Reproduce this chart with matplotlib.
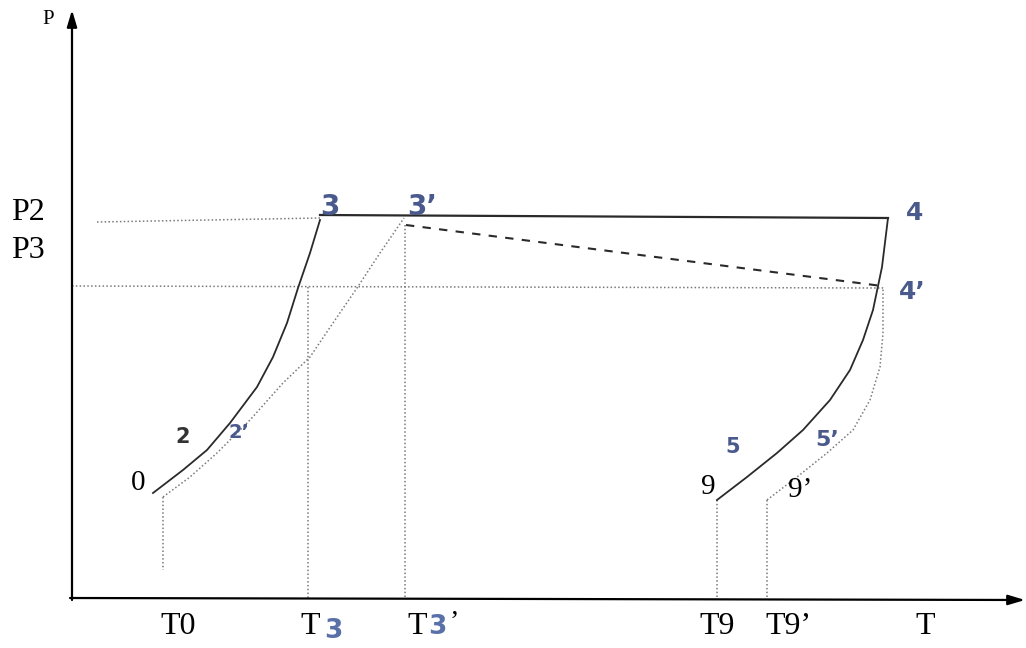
import numpy as np
import matplotlib
matplotlib.use('Agg')
import matplotlib.pyplot as plt

# points (T, P in diagram units, origin at the axes corner)
comp_T = [81, 111, 135, 158, 185, 201, 215, 226, 238, 248]       # 0 -> 2 -> 3
comp_P = [105, 128, 148, 175, 211, 241, 275, 310, 345, 378]
comp2_T = [91, 118, 145, 178, 211, 238, 261, 285, 308, 332]      # 0' -> 2' -> 3'
comp2_P = [101, 121, 145, 178, 215, 241, 275, 310, 345, 380]
turb_T = [645, 675, 705, 731, 758, 778, 791, 801, 810, 816]      # 9 -> 5 -> 4
turb_P = [98, 121, 145, 168, 198, 228, 258, 288, 331, 380]
turb2_T = [695, 725, 755, 781, 798, 808, 811, 811]               # 9' -> 5' -> 4'
turb2_P = [98, 121, 145, 168, 198, 231, 265, 311]

P2 = 380
P3 = 311
T_comb = [248, 816]          # 3 -> 4 at P2
T_drop = [334, 810]          # 3' -> 4' dashed
P_drop = [373, 312]

T_ticks = [106, 645, 716, 853]
T_tick_labels = ['T0', 'T9', 'T9\u2019', 'T']
T3_pos = 236
T3p_pos = 333
T0p_pos = 91

blue = '#4a5a8c'
grey = '#7a7a7a'
serif = 'Liberation Serif'

fig = plt.figure(figsize=(10.26, 6.48), dpi=100)
ax = fig.add_axes([0, 0, 1, 1])
ax.set_xlim(-72, 954)
ax.set_ylim(-50, 598)
ax.axis('off')

# axes with arrows
ax.annotate('', xy=(0, 588), xytext=(0, -2),
            arrowprops=dict(arrowstyle='-|>,head_width=0.3,head_length=1.0',
                            color='black', lw=1.6, shrinkA=0, shrinkB=0))
ax.annotate('', xy=(953, -2), xytext=(-2, 0),
            arrowprops=dict(arrowstyle='-|>,head_width=0.3,head_length=1.0',
                            color='black', lw=1.6, shrinkA=0, shrinkB=0))

# guide lines
dot = dict(color=grey, lw=1.1, ls=(0, (1, 1.5)))
ax.plot([25, 248], [376, P2], **dot)
ax.plot([0, 811], [P3 + 1, P3 - 1], **dot)
ax.plot([T3_pos, T3_pos], [P3, 0], **dot)
ax.plot([T3p_pos, T3p_pos], [373, 0], **dot)
ax.plot([T0p_pos, T0p_pos], [comp2_P[0], 28], **dot)
ax.plot([turb_T[0], turb_T[0]], [turb_P[0], 0], **dot)
ax.plot([turb2_T[0], turb2_T[0]], [turb2_P[0], 0], **dot)

# process lines
ax.plot(comp_T, comp_P, color='#2a2a2a', lw=1.3)
ax.plot(comp2_T, comp2_P, **dot)
ax.plot(turb_T, turb_P, color='#2a2a2a', lw=1.3)
ax.plot(turb2_T, turb2_P, **dot)
ax.plot(T_comb, [P2 + 3, P2], color='#2a2a2a', lw=1.6)
ax.plot(T_drop, P_drop, color='#2a2a2a', lw=1.5, ls=(0, (4, 4)))

# axis texts
ax.text(-24, 578, 'P', fontsize=15, family=serif, ha='center', va='center')
ax.text(-44, 385, 'P2', fontsize=23, family=serif, ha='center', va='center')
ax.text(-44, 348, 'P3', fontsize=23, family=serif, ha='center', va='center')
for t, lab in zip(T_ticks, T_tick_labels):
    ax.text(t, -28, lab, fontsize=23, family=serif, ha='center', va='center')
ax.text(238, -28, 'T', fontsize=23, family=serif, ha='center', va='center')
ax.text(261, -33, '3', fontsize=19, fontweight='bold', color='#5a70a8',
        ha='center', va='center')
ax.text(345, -28, 'T', fontsize=23, family=serif, ha='center', va='center')
ax.text(365, -29, '3', fontsize=19, fontweight='bold', color='#5a70a8',
        ha='center', va='center')
ax.text(382, -24, '\u2019', fontsize=20, family=serif, ha='center', va='center')

# state point labels
pts_black = [(66, 115, '0'), (636, 111, '9'), (728, 108, '9\u2019')]
for t, p, s in pts_black:
    ax.text(t, p, s, fontsize=21, family=serif, ha='center', va='center')
ax.text(111, 161, '2', fontsize=15, fontweight='bold', color='#333333',
        ha='center', va='center')
pts_blue = [(258, 391, '3', 20), (350, 391, '3\u2019', 20), (843, 385, '4', 18),
            (840, 306, '4\u2019', 18), (167, 165, '2\u2019', 14),
            (661, 151, '5', 15), (755, 158, '5\u2019', 16)]
for t, p, s, fs in pts_blue:
    ax.text(t, p, s, fontsize=fs, fontweight='bold', color=blue,
            ha='center', va='center')

fig.savefig('out.png', dpi=100)
